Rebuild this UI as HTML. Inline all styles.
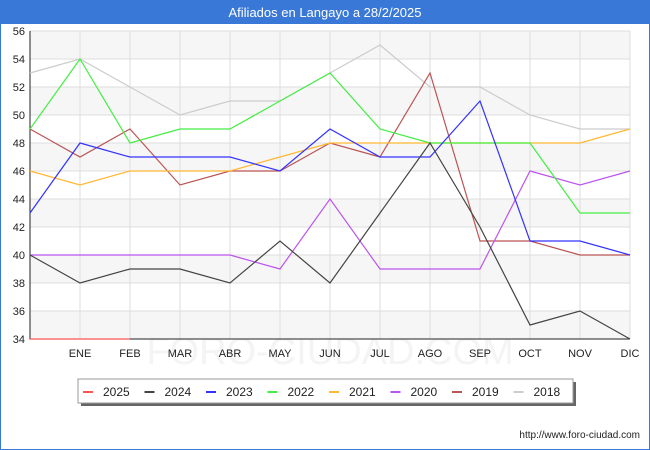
<!DOCTYPE html>
<html><head><meta charset="utf-8"><style>
body{margin:0;background:#fff;font-family:"Liberation Sans",sans-serif}
#wrap{position:relative;width:648px;height:448px;border:1px solid #3a78d8;overflow:hidden}
#title{height:23px;background:#3a78d8;color:#fff;text-align:center;font-size:13px;line-height:23px}
</style></head><body>
<div id="wrap">
<div id="title">Afiliados en Langayo a 28/2/2025</div>
<svg id="svg" width="650" height="427" style="position:absolute;left:-1px;top:23px"></svg>
</div>
<script>
const months=["","ENE","FEB","MAR","ABR","MAY","JUN","JUL","AGO","SEP","OCT","NOV","DIC"];
const yTicks=[34,36,38,40,42,44,46,48,50,52,54,56];
const years=["2025","2024","2023","2022","2021","2020","2019","2018"];
const colors=["#ff5555","#444444","#3333ff","#44ee44","#ffb833","#bb55ee","#bb5555","#cccccc"];
const s2025=[34,34,34];
const s2024=[40,38,39,39,38,41,38,43,48,42,35,36,34];
const s2023=[43,48,47,47,47,46,49,47,47,51,41,41,40];
const s2022=[49,54,48,49,49,51,53,49,48,48,48,43,43];
const s2021=[46,45,46,46,46,47,48,48,48,48,48,48,49];
const s2020=[40,40,40,40,40,39,44,39,39,39,46,45,46];
const s2019=[49,47,49,45,46,46,48,47,53,41,41,40,40];
const s2018=[53,54,52,50,51,51,53,55,52,52,50,49,49];
const series=[s2025,s2024,s2023,s2022,s2021,s2020,s2019,s2018];
const X0=30,X1=630,Y0=7,Y1=315,yMin=34,yMax=56;
const xs=i=>X0+i*(X1-X0)/12;
const ys=v=>Y1-(v-yMin)*(Y1-Y0)/(yMax-yMin);
const svg=document.getElementById('svg');const NS="http://www.w3.org/2000/svg";
function mk(t,a,p){const e=document.createElementNS(NS,t);for(const k in a)e.setAttribute(k,a[k]);(p||svg).appendChild(e);return e;}
for(let i=0;i<yTicks.length-1;i++){if(i%2==0){const r=mk('rect',{x:X0,y:ys(yTicks[i+1]),width:X1-X0,height:ys(yTicks[i])-ys(yTicks[i+1]),fill:'#f6f6f6'});

}}
const wm=mk('text',{x:330,y:340,'font-size':38,fill:'#f4f4f4','text-anchor':'middle','font-family':'Liberation Sans'});wm.textContent='FORO-CIUDAD.COM';


yTicks.forEach(v=>{const l=mk('line',{x1:X0,x2:X1,y1:ys(v),y2:ys(v),stroke:'#ddd'});


const t=mk('text',{x:X0-5,y:ys(v)+4,'font-size':11,'text-anchor':'end',fill:'#222'});t.textContent=v;

});
months.forEach((m,i)=>{if(i>0){const l=mk('line',{x1:xs(i),x2:xs(i),y1:Y0,y2:Y1,stroke:'#ddd'});

}
const t=mk('text',{x:xs(i),y:Y1+18,'font-size':11,'text-anchor':'middle',fill:'#222'});t.textContent=m;

});
const ax=mk('path',{d:`M${X0} ${Y0}V${Y1}H${X1}`,fill:'none',stroke:'#222'});


for(let k=series.length-1;k>=0;k--){const d=series[k].map((v,i)=>(i?'L':'M')+xs(i)+' '+ys(v)).join('');
const p=mk('path',{d:d,fill:'none',stroke:colors[k],'stroke-width':1.2});

}
const lg=mk('g',{});

mk('rect',{x:81,y:358,width:495,height:24,fill:'#666'},lg);
mk('rect',{x:78,y:355,width:495,height:24,fill:'#fff',stroke:'#999'},lg);
years.forEach((y,k)=>{const g=mk('g',{},lg);

const x=83+k*61.5;mk('line',{x1:x,x2:x+10,y1:368,y2:368,stroke:colors[k],'stroke-width':2},g);
const t=mk('text',{x:x+20,y:372,'font-size':12,fill:'#222'},g);t.textContent=y;});
const u=mk('text',{x:640,y:414,'font-size':10,'text-anchor':'end',fill:'#222'});u.textContent='http://www.foro-ciudad.com';


</script>
</body></html>
